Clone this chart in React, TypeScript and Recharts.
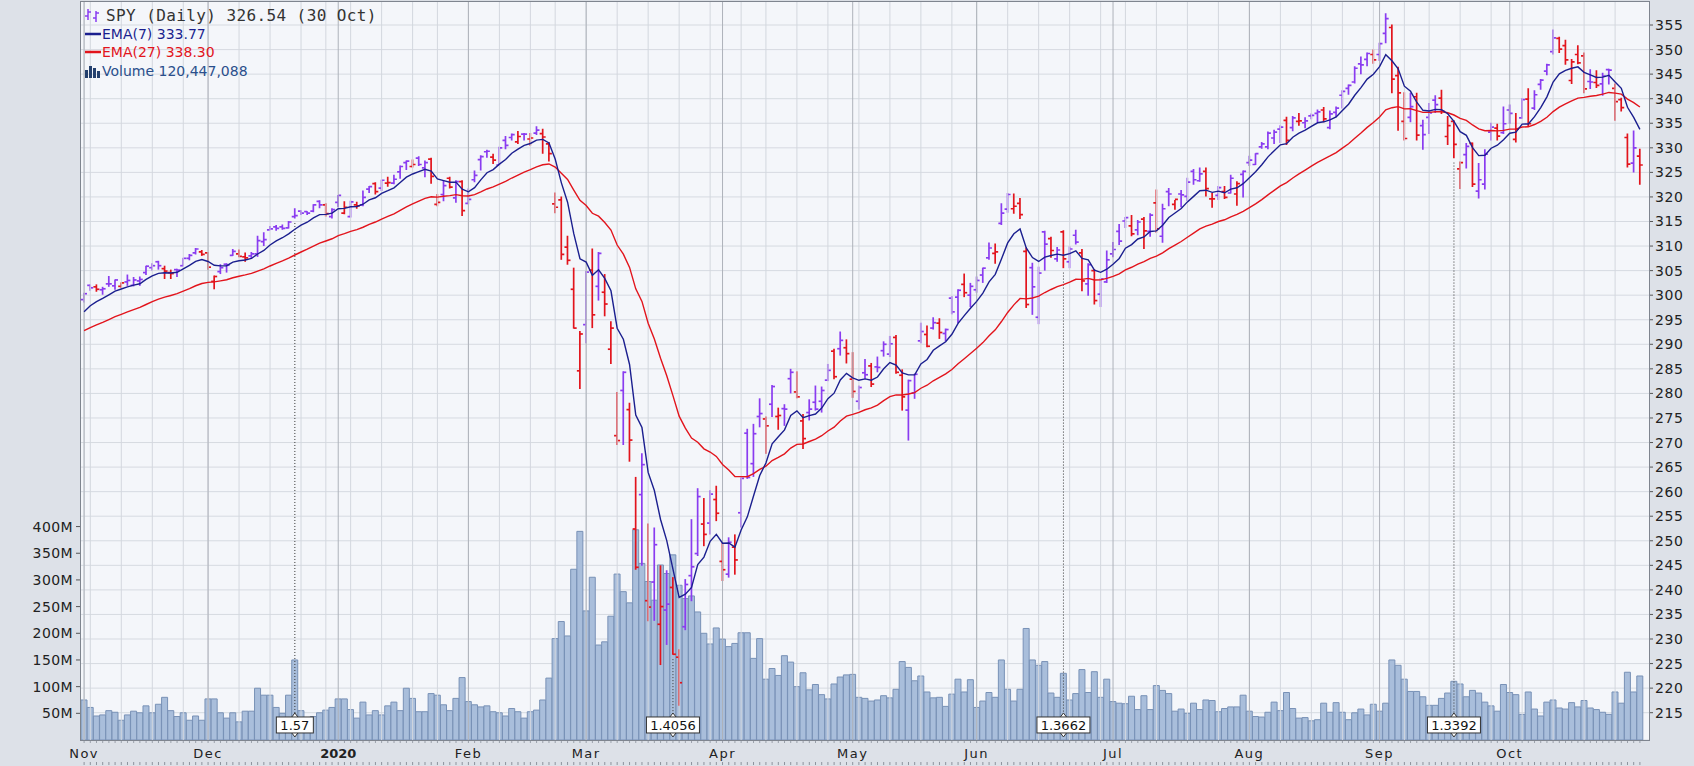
import React from 'react';
import {
  ComposedChart,
  Bar,
  Line,
  XAxis,
  YAxis,
  CartesianGrid,
  ReferenceLine,
  ReferenceDot,
} from 'recharts';

// trading calendar: weekdays between the two dates, minus NYSE holidays
const FIRST_DAY = '2019-11-01';
const LAST_DAY = '2020-10-30';
const HOLIDAYS = [
  '2019-11-28', '2019-12-25', '2020-01-01', '2020-01-20', '2020-02-17',
  '2020-04-10', '2020-05-25', '2020-07-03', '2020-09-07',
];
const MONTH_LABELS = ['2020', 'Feb', 'Mar', 'Apr', 'May', 'Jun', 'Jul', 'Aug', 'Sep', 'Oct', 'Nov', 'Dec'];

// SPY daily, dividend adjusted (one value per trading day)
const opens = [
  299.1, 302.0, 301.7, 301.1, 302.3, 301.9, 301.8, 302.7, 302.0, 302.9, 304.6, 305.6, 306.8, 305.4, 304.6, 305.2, 306.0, 307.5, 308.6, 308.8,
  308.6, 302.8, 304.8, 306.3, 308.1, 308.4, 307.8, 308.0, 308.4, 310.9, 313.3, 313.9, 313.9, 313.7, 316.0, 317.1, 317.0, 317.1, 319.1, 318.4, 316.0,
  318.9, 316.7, 316.0, 318.4, 318.4, 321.6, 322.7, 321.8, 322.8, 322.8, 325.1, 327.0, 326.2, 327.9, 325.9, 327.7, 318.5, 320.5, 323.8, 319.8, 323.1,
  318.7, 323.5, 327.6, 329.2, 328.1, 326.5, 331.5, 332.1, 331.2, 332.8, 331.8, 333.0, 332.9, 330.8, 318.6, 319.4, 309.8, 301.2, 284.6,
  294.0, 305.1, 301.8, 300.6, 289.0, 271.4, 280.6, 276.7, 252.4, 259.4, 237.8, 241.6, 233.0, 235.9, 240.5, 226.3, 232.5, 242.9, 247.4, 253.4, 253.6, 258.4,
  245.8, 243.2, 248.7, 255.7, 271.9, 265.7, 275.3, 274.8, 277.8, 275.3, 276.9, 283.0, 280.3, 274.4, 276.1, 278.2, 278.4, 282.7, 288.6, 289.1, 289.3,
  282.9, 278.4, 284.2, 285.6, 285.4, 288.7, 288.0, 291.4, 283.7, 276.6, 280.1, 290.7, 292.0, 293.3, 294.3, 292.2, 299.4, 299.6, 302.2, 300.0,
  301.1, 304.1, 307.6, 308.5, 314.6, 317.5, 317.6, 318.7, 308.9, 305.6, 295.5, 312.9, 311.5, 307.4, 312.9, 306.8, 312.2, 308.6, 302.3, 305.0, 300.2, 302.7,
  308.4, 313.0, 315.1, 314.1, 313.3, 315.5, 313.0, 318.8, 312.0, 321.1, 318.5, 320.6, 320.1, 325.2, 323.3, 325.2, 319.6, 320.3, 321.1, 320.8, 320.6, 324.6,
  327.0, 326.6, 330.2, 330.2, 332.0, 333.8, 335.6, 334.1, 335.4, 335.1, 336.5, 337.0, 337.7, 334.1, 337.2, 340.7, 342.1, 343.4, 347.1, 348.0, 349.0,
  349.0, 353.3, 354.5, 344.7, 335.4, 336.2, 340.4, 334.5, 336.2, 339.7, 340.1, 332.3, 335.4, 325.7, 328.6, 330.9, 321.2, 322.6, 333.2, 334.0, 333.1,
  337.7, 331.7, 336.1, 339.9, 338.1, 342.9, 345.6, 349.6, 352.3, 350.8, 343.7, 349.0, 348.7, 343.5, 343.3, 343.0, 345.9, 342.1, 339.8, 332.1, 326.9, 328.3,
];
const highs = [
  300.4, 302.1, 302.1, 301.6, 303.8, 303.1, 302.5, 304.1, 303.6, 303.7, 305.9, 306.4, 306.9, 305.9, 305.1, 305.3, 307.5, 308.3, 309.5, 309.1,
  308.7, 303.9, 306.2, 306.4, 309.3, 309.2, 308.6, 308.7, 312.0, 312.7, 314.0, 314.2, 314.3, 315.0, 317.6, 317.2, 317.0, 318.4, 319.2, 318.6, 317.6,
  320.3, 319.0, 319.1, 318.9, 321.2, 322.1, 322.9, 323.4, 324.0, 324.4, 326.3, 327.3, 327.5, 328.2, 327.3, 327.9, 320.5, 323.3, 324.0, 323.3, 323.3,
  321.6, 325.3, 328.4, 329.5, 328.7, 330.1, 332.3, 332.8, 333.3, 332.9, 332.9, 334.3, 333.8, 331.1, 320.8, 320.0, 312.0, 305.5, 292.6,
  304.8, 309.4, 308.7, 304.2, 294.6, 280.2, 284.4, 278.0, 262.9, 267.7, 253.4, 252.6, 244.9, 243.9, 242.5, 227.8, 242.1, 254.3, 260.6, 258.6, 260.2, 261.1,
  249.5, 250.6, 251.2, 262.8, 272.7, 273.7, 278.9, 275.2, 281.6, 277.0, 277.7, 284.9, 284.4, 275.7, 278.7, 281.5, 281.3, 285.9, 289.0, 292.5, 290.9,
  288.3, 281.5, 286.9, 286.1, 287.4, 290.5, 291.6, 291.8, 284.8, 282.7, 283.9, 294.3, 293.7, 295.4, 295.2, 293.1, 299.7, 301.1, 304.3, 302.4,
  303.7, 305.5, 310.6, 310.4, 318.6, 320.7, 320.6, 319.7, 309.6, 306.5, 305.7, 313.0, 311.8, 309.7, 313.1, 309.8, 313.2, 309.3, 306.4, 305.2, 303.4, 309.0,
  310.7, 314.4, 315.8, 316.2, 315.2, 315.8, 316.6, 321.4, 318.5, 321.7, 319.3, 321.3, 323.8, 325.6, 325.9, 325.9, 320.7, 322.1, 322.1, 324.4, 323.1, 325.3,
  328.3, 328.8, 331.1, 333.2, 333.6, 334.5, 336.2, 336.4, 337.0, 336.1, 336.9, 337.7, 338.2, 337.5, 338.3, 341.6, 342.8, 346.5, 348.5, 349.3, 349.9,
  351.3, 357.3, 355.0, 346.4, 341.2, 341.1, 341.1, 335.6, 339.0, 340.6, 341.7, 336.4, 335.5, 327.1, 330.9, 331.0, 326.8, 329.6, 335.0, 334.8, 338.3,
  338.7, 337.0, 340.0, 342.0, 341.6, 343.9, 347.0, 354.0, 352.5, 351.9, 348.0, 350.8, 349.3, 345.9, 345.7, 345.2, 346.0, 343.0, 340.1, 332.8, 333.4, 329.7,
];
const lows = [
  298.6, 301.0, 300.8, 300.2, 301.8, 301.2, 301.6, 302.0, 301.9, 302.0, 304.2, 305.1, 305.3, 303.4, 303.4, 303.8, 306.0, 307.2, 308.4, 308.1,
  305.3, 301.3, 304.4, 304.7, 308.1, 307.8, 306.9, 307.5, 307.9, 310.1, 313.3, 313.2, 313.4, 313.7, 315.7, 316.4, 316.4, 317.0, 317.8, 316.1, 315.7,
  318.0, 316.6, 315.9, 317.7, 318.2, 320.9, 320.6, 321.3, 322.2, 322.7, 323.8, 325.6, 326.1, 326.4, 324.1, 322.8, 318.2, 319.2, 321.8, 318.9, 316.2,
  318.6, 323.1, 325.5, 328.1, 326.8, 326.5, 329.8, 331.6, 330.9, 331.6, 330.5, 332.7, 328.9, 327.3, 316.8, 307.3, 306.3, 293.3, 281.0,
  290.3, 293.4, 299.0, 295.8, 286.1, 269.6, 269.6, 266.2, 244.2, 245.0, 233.7, 233.8, 224.8, 228.9, 226.9, 216.5, 231.9, 237.8, 247.0, 249.0, 251.4, 254.1,
  241.9, 242.6, 243.2, 252.8, 262.7, 263.1, 273.2, 267.8, 275.3, 272.7, 273.5, 280.1, 279.1, 268.8, 274.6, 276.6, 276.2, 282.6, 283.0, 287.8, 286.2,
  279.2, 276.8, 283.1, 281.4, 284.4, 287.6, 287.5, 284.1, 276.6, 270.5, 279.0, 290.3, 289.5, 293.1, 291.2, 290.7, 296.2, 294.4, 299.7, 297.7,
  300.6, 302.6, 307.3, 306.5, 314.4, 316.9, 316.7, 315.6, 297.5, 296.1, 294.2, 305.1, 307.7, 306.9, 305.6, 305.6, 310.4, 300.9, 300.0, 298.2, 297.7, 302.6,
  307.8, 310.3, 313.8, 312.1, 312.3, 309.5, 312.0, 312.8, 310.8, 318.2, 317.5, 318.0, 319.3, 322.6, 323.2, 320.2, 317.9, 319.5, 319.7, 320.8, 318.3, 320.0,
  326.4, 326.6, 329.9, 329.8, 330.9, 331.1, 330.7, 333.5, 334.6, 334.1, 335.9, 335.3, 335.3, 333.9, 336.3, 338.1, 340.9, 343.2, 345.1, 346.7, 347.2,
  347.8, 351.4, 341.2, 333.6, 331.6, 335.3, 331.6, 329.7, 332.9, 337.2, 337.0, 330.7, 328.0, 321.7, 325.9, 322.1, 319.8, 321.6, 331.6, 331.6, 332.9,
  335.0, 331.2, 336.0, 334.4, 337.8, 341.9, 344.9, 349.1, 349.4, 347.0, 343.1, 347.1, 341.2, 342.1, 342.3, 340.7, 343.0, 335.6, 337.5, 326.1, 325.1, 322.6,
];
const closes = [
  300.3, 301.5, 301.2, 301.3, 302.3, 303.1, 302.5, 303.0, 303.1, 303.2, 305.9, 306.0, 306.0, 304.9, 304.4, 305.1, 307.5, 308.1, 309.4, 308.3,
  305.7, 303.8, 305.6, 306.1, 308.9, 307.9, 307.6, 308.4, 311.1, 311.3, 313.5, 313.6, 313.6, 314.9, 316.2, 316.7, 316.7, 318.4, 318.4, 316.6, 317.4,
  320.3, 317.9, 319.0, 318.2, 319.9, 322.1, 321.1, 323.4, 322.9, 323.6, 326.2, 327.3, 326.6, 326.6, 327.0, 324.2, 318.9, 322.3, 322.0, 323.1, 317.2,
  319.5, 324.4, 328.2, 329.3, 327.5, 330.0, 330.5, 332.7, 332.3, 332.8, 332.0, 333.6, 332.2, 328.8, 317.9, 308.3, 307.1, 293.3, 292.1,
  304.7, 296.0, 308.5, 298.2, 293.3, 270.4, 284.3, 270.5, 244.6, 265.5, 236.5, 249.2, 236.6, 237.1, 226.9, 221.1, 241.1, 244.7, 259.0, 251.3, 259.5, 255.6,
  244.1, 249.7, 246.1, 262.7, 262.9, 271.8, 275.9, 273.4, 281.4, 275.5, 276.8, 284.3, 279.3, 270.8, 276.8, 276.8, 280.6, 284.7, 283.4, 290.8, 288.1,
  280.4, 281.2, 283.8, 281.9, 285.3, 290.0, 290.1, 284.3, 279.3, 282.6, 283.9, 292.6, 289.6, 294.4, 292.4, 293.0, 296.6, 301.0, 300.5, 301.8,
  303.0, 305.5, 309.6, 308.8, 316.7, 320.5, 318.1, 316.4, 298.1, 301.7, 304.5, 310.4, 309.1, 309.2, 307.4, 309.4, 310.8, 302.9, 306.2, 298.9, 303.3, 307.2,
  309.3, 311.0, 315.8, 312.5, 314.9, 313.1, 316.3, 313.5, 317.6, 320.6, 319.5, 320.4, 323.0, 323.5, 324.7, 321.7, 319.6, 321.9, 319.9, 323.8, 322.7, 325.2,
  327.5, 328.8, 330.8, 333.0, 333.2, 334.2, 331.5, 336.1, 335.5, 335.5, 336.6, 337.3, 335.9, 336.9, 338.1, 341.5, 342.7, 346.2, 346.9, 349.2, 347.9,
  351.2, 356.3, 344.0, 341.2, 331.9, 338.4, 332.6, 332.7, 337.1, 338.8, 337.5, 334.5, 330.7, 327.0, 330.3, 322.6, 323.5, 328.7, 334.2, 332.4, 334.9,
  337.0, 333.8, 339.8, 334.9, 340.8, 343.8, 346.9, 352.4, 350.1, 347.9, 347.5, 347.3, 342.0, 343.4, 342.7, 344.6, 345.8, 339.4, 338.2, 326.7, 330.0, 326.5,
];
// volume, millions of shares
const volumes = [
  75, 61, 45, 47, 55, 52, 37, 47, 54, 51, 64, 51, 67, 80, 55, 44, 51, 37, 45, 37,
  77, 77, 51, 41, 51, 34, 54, 54, 97, 84, 84, 61, 50, 84, 150, 55, 31, 44, 51, 56, 61,
  77, 77, 57, 41, 71, 47, 55, 47, 64, 71, 55, 97, 78, 53, 53, 87, 84, 66, 55, 78, 117,
  72, 66, 62, 64, 53, 51, 45, 59, 53, 41, 53, 56, 75, 116, 190, 222, 195, 320, 391,
  242, 305, 178, 184, 232, 311, 278, 257, 394, 331, 297, 262, 328, 312, 347, 290, 265, 270, 240, 200, 180, 210,
  189, 175, 181, 201, 201, 153, 190, 114, 134, 121, 158, 146, 100, 126, 94, 104, 85, 77, 105, 118, 122,
  123, 80, 78, 73, 75, 83, 79, 95, 147, 136, 111, 120, 90, 79, 80, 63, 86, 114, 90, 113,
  61, 73, 89, 80, 150, 95, 73, 95, 209, 150, 140, 147, 88, 80, 125, 75, 87, 132, 89, 128, 80, 114,
  72, 69, 68, 82, 57, 83, 57, 102, 93, 87, 54, 58, 50, 69, 57, 75, 74, 53, 59, 62, 62, 84,
  54, 44, 43, 52, 71, 55, 89, 59, 41, 42, 36, 38, 69, 52, 70, 52, 38, 51, 58, 47, 67,
  54, 69, 150, 140, 114, 91, 91, 81, 65, 65, 78, 88, 110, 105, 81, 93, 88, 71, 64, 54, 104,
  89, 85, 48, 90, 58, 45, 71, 75, 60, 58, 70, 62, 74, 60, 57, 52, 48, 90, 69, 127, 90, 120,
];
const PREV_CLOSE = 297.6; // 31 Oct 2019
const EMA7_START = 295.4; // moving averages as they enter the window
const EMA27_START = 292.2;

const dividendDates = ['2019-12-20', '2020-03-20', '2020-06-19', '2020-09-18'];
const dividendLabels = ['1.57', '1.4056', '1.3662', '1.3392'];

const priceTicks = [215, 220, 225, 230, 235, 240, 245, 250, 255, 260, 265, 270, 275, 280, 285, 290, 295, 300, 305, 310, 315, 320, 325, 330, 335, 340, 345, 350, 355];
const volumeTicks = [50, 100, 150, 200, 250, 300, 350, 400];

const UP = '#8a3cf0';
const DOWN = '#e2141c';
const FONT = 'DejaVu Sans';

function tradingDays(from: string, to: string) {
  const out: string[] = [];
  const d = new Date(from + 'T00:00:00Z');
  const end = new Date(to + 'T00:00:00Z');
  while (d <= end) {
    const wd = d.getUTCDay();
    const s = d.toISOString().slice(0, 10);
    if (wd !== 0 && wd !== 6 && !HOLIDAYS.includes(s)) out.push(s);
    d.setUTCDate(d.getUTCDate() + 1);
  }
  return out;
}

function ema(values: number[], period: number, start: number) {
  const k = 2 / (period + 1);
  let prev = start;
  return values.map((v) => (prev = prev + k * (v - prev)));
}

const dates = tradingDays(FIRST_DAY, LAST_DAY);
const ema7 = ema(closes, 7, EMA7_START);
const ema27 = ema(closes, 27, EMA27_START);

const rows = dates.map((d, i) => ({
  i,
  d,
  o: opens[i],
  h: highs[i],
  l: lows[i],
  c: closes[i],
  range: [lows[i], highs[i]],
  up: closes[i] >= (i === 0 ? PREV_CLOSE : closes[i - 1]),
  v: volumes[i],
  e7: ema7[i],
  e27: ema27[i],
}));

const dow = (s: string) => new Date(s + 'T00:00:00Z').getUTCDay();
const weekStarts = dates.map((d, i) => i).filter((i) => i === 0 || dow(dates[i]) <= dow(dates[i - 1]));
const monthStarts = dates.map((d, i) => i).filter((i) => i === 0 || dates[i].slice(5, 7) !== dates[i - 1].slice(5, 7));
const monthLabelAt = new Map(monthStarts.map((i) => [i, MONTH_LABELS[Number(dates[i].slice(5, 7)) - 1]]));
const allIdx = dates.map((d, i) => i);
const dividends = dividendDates.map((d, k) => ({ idx: dates.indexOf(d), label: dividendLabels[k] }));

function OhlcBar(props: any) {
  const { x, y, width, height, payload } = props;
  if (!payload || x == null || y == null) return null;
  const top = Math.min(y, y + (height || 0));
  const bot = Math.max(y, y + (height || 0));
  const span = payload.h - payload.l || 1;
  const py = (v: number) => top + ((payload.h - v) / span) * (bot - top);
  const cx = x + width / 2;
  return (
    <g stroke={payload.up ? UP : DOWN} strokeWidth={1.7}>
      <line x1={cx} x2={cx} y1={top - 0.5} y2={bot + 0.5} />
      <line x1={cx - 3} x2={cx} y1={py(payload.o)} y2={py(payload.o)} />
      <line x1={cx} x2={cx + 3} y1={py(payload.c)} y2={py(payload.c)} />
    </g>
  );
}

function XTick(props: any) {
  const { x, y, payload } = props;
  const label = monthLabelAt.get(payload.value);
  return (
    <g>
      <line x1={x} x2={x} y1={y + 1} y2={y + 3} stroke="#9ba1ab" />
      <line x1={x} x2={x} y1={y + 22} y2={y + 25} stroke="#8d939d" />
      {label && (
        <text
          x={x}
          y={y + 18}
          textAnchor="middle"
          fontFamily={FONT}
          fontSize={13}
          fontWeight={label === '2020' ? 'bold' : 'normal'}
          letterSpacing={label === '2020' ? 0 : 1.5}
          fill="#222"
        >
          {label}
        </text>
      )}
    </g>
  );
}

function PriceTick(props: any) {
  const { x, y, payload } = props;
  return (
    <text x={x} y={y + 5} fontFamily={FONT} fontSize={14} letterSpacing={0.6} fill="#222">
      {payload.value}
    </text>
  );
}

function VolumeTick(props: any) {
  const { x, y, payload } = props;
  return (
    <text x={x} y={y + 5} textAnchor="end" fontFamily={FONT} fontSize={14} letterSpacing={0.4} fill="#222">
      {payload.value}M
    </text>
  );
}

function DividendTag(props: any) {
  const { cx, cy, label } = props;
  if (cx == null || cy == null) return null;
  const w = label.length * 8 + 5;
  const h = 16;
  const t = cy - h / 2;
  const b = cy + h / 2;
  return (
    <g>
      <path d={`M${cx - 3},${t} L${cx},${t - 4} L${cx + 3},${t}`} fill="#fff" stroke="#333" />
      <path d={`M${cx - 3},${b} L${cx},${b + 4} L${cx + 3},${b}`} fill="#fff" stroke="#333" />
      <rect x={cx - w / 2} y={t} width={w} height={h} fill="#fff" stroke="#333" />
      <text x={cx} y={cy + 5} textAnchor="middle" fontFamily={FONT} fontSize={13} fill="#111">
        {label}
      </text>
    </g>
  );
}

function Legend() {
  const row = (top: number, children: React.ReactNode) => (
    <div style={{ position: 'absolute', left: 84, top, height: 18, display: 'flex', alignItems: 'center', whiteSpace: 'nowrap' }}>
      {children}
    </div>
  );
  return (
    <>
      {row(6, (
        <>
          <svg width={18} height={16} style={{ marginRight: 4 }}>
            <g stroke={UP} strokeWidth={1.5}>
              <line x1={4} x2={4} y1={2} y2={13} />
              <line x1={1} x2={4} y1={9} y2={9} />
              <line x1={4} x2={7} y1={5} y2={5} />
              <line x1={12} x2={12} y1={4} y2={15} />
              <line x1={9} x2={12} y1={11} y2={11} />
              <line x1={12} x2={15} y1={6} y2={6} />
            </g>
          </svg>
          <span style={{ fontFamily: 'DejaVu Sans Mono', fontSize: 16, letterSpacing: 0.4, color: '#333' }}>
            SPY (Daily) 326.54 (30 Oct)
          </span>
        </>
      ))}
      {row(25, (
        <>
          <svg width={18} height={10}>
            <line x1={1} x2={17} y1={5} y2={5} stroke="#1b1f8f" strokeWidth={2.5} />
          </svg>
          <span style={{ fontFamily: FONT, fontSize: 14, color: '#1b1f8f' }}>EMA(7) 333.77</span>
        </>
      ))}
      {row(43, (
        <>
          <svg width={18} height={10}>
            <line x1={1} x2={17} y1={5} y2={5} stroke="#e2141c" strokeWidth={2.5} />
          </svg>
          <span style={{ fontFamily: FONT, fontSize: 14, color: '#e2141c' }}>EMA(27) 338.30</span>
        </>
      ))}
      {row(62, (
        <>
          <svg width={18} height={14}>
            <g fill="#24406e">
              <rect x={1} y={6} width={3} height={8} />
              <rect x={5} y={2} width={3} height={12} />
              <rect x={9} y={4} width={3} height={10} />
              <rect x={13} y={7} width={3} height={7} />
            </g>
          </svg>
          <span style={{ fontFamily: FONT, fontSize: 14, color: '#2a4f8c' }}>Volume 120,447,088</span>
        </>
      ))}
    </>
  );
}

export default function App() {
  return (
    <div style={{ position: 'absolute', left: 0, top: 0, width: 1694, height: 766, background: '#dde1e8', overflow: 'hidden' }}>
      <div style={{ position: 'absolute', left: 80, top: 1, width: 1569, height: 739, background: '#f4f6fa' }} />
      <div style={{ position: 'absolute', left: 0, top: 0 }}>
        <ComposedChart
          width={1694}
          height={766}
          data={rows}
          margin={{ top: 1, right: 0, bottom: 0, left: 0 }}
          barCategoryGap={0}
          barGap={0}
        >
          <XAxis
            xAxisId="main"
            dataKey="i"
            type="category"
            ticks={allIdx}
            interval={0}
            tick={<XTick />}
            tickLine={false}
            tickSize={0}
            tickMargin={0}
            axisLine={false}
            height={26}
            padding={{ left: 1, right: 6 }}
          />
          <XAxis xAxisId="ohlc" dataKey="i" type="category" hide padding={{ left: 1, right: 6 }} />
          <YAxis
            yAxisId="vol"
            orientation="left"
            width={80}
            domain={[0, 1385]}
            allowDataOverflow
            ticks={volumeTicks}
            tick={<VolumeTick />}
            tickSize={4}
            tickMargin={3}
            tickLine={{ stroke: '#555' }}
            axisLine={false}
          />
          <YAxis
            yAxisId="price"
            orientation="right"
            width={45}
            domain={[209.44, 359.89]}
            allowDataOverflow
            ticks={priceTicks}
            tick={<PriceTick />}
            tickSize={4}
            tickMargin={2}
            tickLine={{ stroke: '#555' }}
            axisLine={false}
          />
          <CartesianGrid xAxisId="main" yAxisId="price" vertical={false} stroke="#d6dae1" />
          {weekStarts.map((i) => (
            <ReferenceLine key={'w' + i} xAxisId="main" yAxisId="price" x={i} stroke="#d3d7de" />
          ))}
          {monthStarts.map((i) => (
            <ReferenceLine key={'m' + i} xAxisId="main" yAxisId="price" x={i} stroke="#aeb2ba" />
          ))}
          <Bar
            xAxisId="main"
            yAxisId="vol"
            dataKey="v"
            fill="#a9bedb"
            stroke="#7891b6"
            strokeWidth={1}
            isAnimationActive={false}
          />
          {dividends.map((dv) => (
            <ReferenceLine
              key={'dl' + dv.idx}
              xAxisId="main"
              yAxisId="price"
              segment={[
                { x: dv.idx, y: lows[dv.idx] - 1 },
                { x: dv.idx, y: 214.9 },
              ]}
              stroke="#333"
              strokeDasharray="1 2"
            />
          ))}
          <Bar xAxisId="ohlc" yAxisId="price" dataKey="range" shape={OhlcBar} isAnimationActive={false} />
          <Line
            xAxisId="main"
            yAxisId="price"
            type="linear"
            dataKey="e27"
            stroke="#e2141c"
            strokeWidth={1.4}
            dot={false}
            activeDot={false}
            isAnimationActive={false}
          />
          <Line
            xAxisId="main"
            yAxisId="price"
            type="linear"
            dataKey="e7"
            stroke="#1b1f8f"
            strokeWidth={1.4}
            dot={false}
            activeDot={false}
            isAnimationActive={false}
          />
          {dividends.map((dv) => (
            <ReferenceDot
              key={'dt' + dv.idx}
              xAxisId="main"
              yAxisId="price"
              x={dv.idx}
              y={212.5}
              r={0}
              shape={(p: any) => <DividendTag {...p} label={dv.label} />}
            />
          ))}
        </ComposedChart>
      </div>
      <div
        style={{
          position: 'absolute',
          left: 80,
          top: 1,
          width: 1570,
          height: 740,
          border: '1px solid #7f858f',
          boxSizing: 'border-box',
          pointerEvents: 'none',
        }}
      />
      <Legend />
    </div>
  );
}
